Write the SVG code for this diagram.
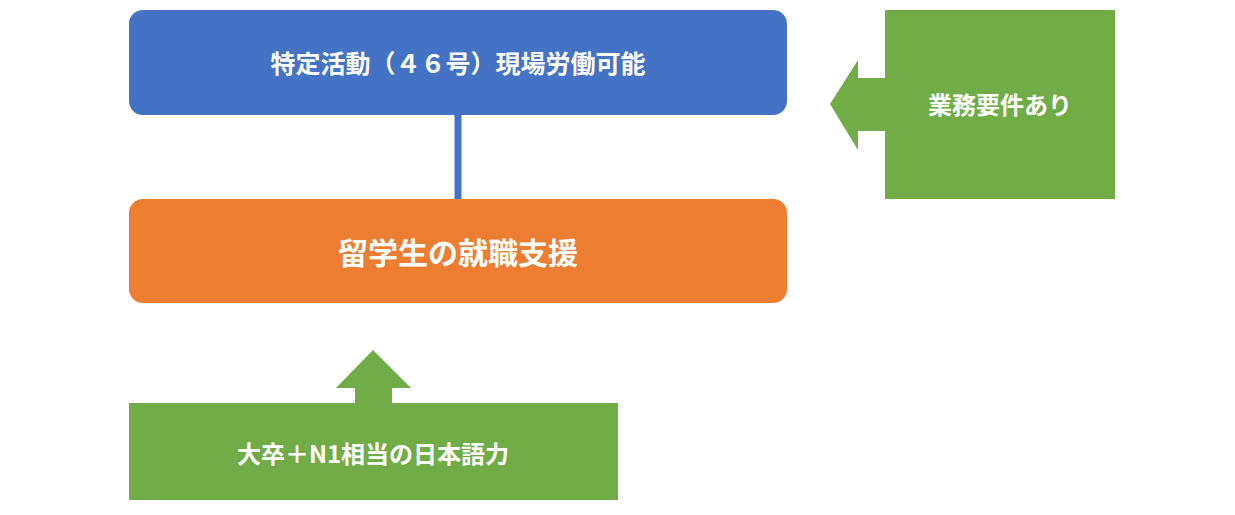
<svg xmlns="http://www.w3.org/2000/svg" width="1235" height="515" viewBox="0 0 1235 515">
<style>
text{font-family:"Noto Sans CJK JP","Noto Sans",sans-serif;font-weight:bold;fill:#fff;text-anchor:middle;dominant-baseline:central}
.g{fill:#70AD47}
</style>
<rect width="1235" height="515" fill="#fff"/>
<g id="connectors">
<line x1="458" y1="115" x2="458" y2="199" stroke="#4472C4" stroke-width="7"/>
</g>
<g id="node-top">
<rect x="129" y="10" width="658" height="105" rx="14" fill="#4472C4"/>
<text x="458" y="62" font-size="25">特定活動（４６号）現場労働可能</text>
</g>
<g id="node-mid">
<rect x="129" y="199" width="658" height="104" rx="14" fill="#ED7D31"/>
<text x="458" y="251" font-size="30">留学生の就職支援</text>
</g>
<g id="node-right">
<rect class="g" x="885" y="10" width="230" height="189"/>
<polygon class="g" points="830,104 858,60 858,78 886,78 886,131 858,131 858,150"/>
<text x="1000" y="103" font-size="24">業務要件あり</text>
</g>
<g id="node-bottom">
<rect class="g" x="129" y="403" width="489" height="97"/>
<polygon class="g" points="373,350 411,388 392,388 392,404 355,404 355,388 336,388"/>
<text x="373" y="452" font-size="24">大卒＋N1相当の日本語力</text>
</g>
</svg>
